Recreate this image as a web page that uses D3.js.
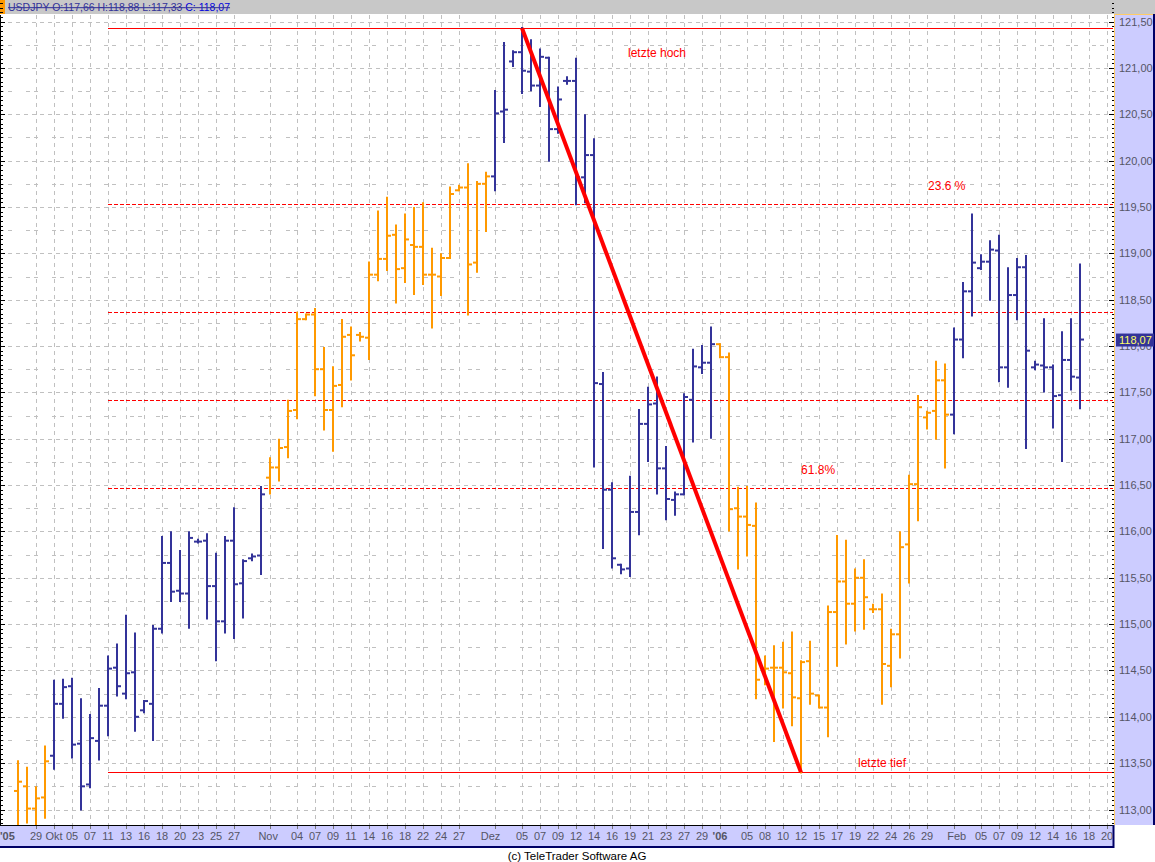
<!DOCTYPE html>
<html><head><meta charset="utf-8">
<script src="https://cdn.jsdelivr.net/npm/d3@7"></script>
<style>
body{margin:0;background:#fff;}
svg{display:block;font-family:"Liberation Sans",Arial,sans-serif;}
</style></head><body>
<svg id="c" width="1155" height="862"></svg>
<script>
// ---- data ----
const opens  = [113.20,113.25,113.01,113.13,113.58,114.14,114.33,113.71,113.27,113.74,
114.12,114.53,114.25,114.48,114.07,114.14,114.95,115.66,115.36,115.33,
115.89,115.90,115.41,115.03,115.90,115.44,115.71,115.74,116.58,116.69,
116.91,117.31,118.29,118.34,117.75,117.31,117.58,118.12,118.12,118.09,
118.77,118.94,119.20,118.84,119.09,119.07,118.77,118.75,118.95,119.68,
119.71,118.90,119.75,119.83,120.53,121.07,121.17,120.96,120.81,121.11,
120.34,120.86,120.86,119.82,120.06,117.59,116.45,115.64,115.60,116.21,
117.16,117.38,116.68,116.34,116.40,117.42,117.77,117.82,118.02,117.88,
116.25,116.16,116.06,114.52,114.53,114.53,114.47,114.20,114.60,114.23,
114.10,115.13,115.46,115.22,115.50,115.16,115.16,114.55,114.89,115.86,
116.51,117.23,117.30,117.63,117.26,118.07,118.59,118.84,118.91,119.03,
117.77,118.55,118.85,117.77,117.79,117.77,117.47,117.85,117.66];
const highs  = [113.52,113.45,113.24,113.68,114.39,114.40,114.41,114.19,114.02,114.30,
114.65,114.78,115.09,114.90,114.17,114.98,115.94,115.99,115.79,115.99,
115.91,115.97,115.76,115.94,116.25,115.69,115.75,116.48,116.79,116.99,
117.41,118.36,118.34,118.40,117.98,117.77,118.28,118.20,118.14,118.90,
119.45,119.60,119.30,119.42,119.49,119.54,119.05,118.99,119.71,119.73,
119.96,119.77,119.87,120.75,121.27,121.18,121.43,121.30,121.20,121.11,
120.79,120.90,121.10,120.49,120.23,117.71,116.52,115.64,116.59,117.31,
117.55,117.66,116.91,116.42,117.48,117.96,118.00,118.20,118.02,117.92,
116.47,116.48,116.30,114.65,114.76,114.80,114.91,114.60,114.81,114.23,
115.19,115.95,115.90,115.59,115.69,115.21,115.32,114.94,115.99,116.60,
117.46,117.29,117.83,117.80,118.19,118.68,119.42,118.98,119.13,119.19,
118.84,118.94,118.97,117.83,118.29,117.79,118.15,118.29,118.88];
const lows   = [112.75,112.86,112.80,112.91,113.44,113.99,113.56,113.00,113.24,113.54,
113.80,114.23,114.20,113.85,114.05,113.75,114.91,115.25,115.25,114.96,
115.88,115.06,114.61,114.91,114.85,115.07,115.69,115.54,116.41,116.55,
116.80,117.22,118.29,117.47,117.10,116.87,117.35,117.64,118.06,117.86,
118.71,118.82,118.47,118.69,118.56,118.67,118.20,118.55,118.95,119.68,
118.34,118.80,119.24,119.68,120.20,121.02,120.73,120.76,120.59,120.00,
120.30,120.83,119.53,119.55,116.70,115.82,115.61,115.55,115.52,115.97,
116.76,116.41,116.13,116.18,116.40,116.97,117.71,117.01,117.88,116.01,
115.60,115.74,114.20,114.35,113.74,114.10,113.91,113.40,114.14,114.10,
113.79,114.55,114.79,114.93,114.95,115.13,114.14,114.33,114.64,115.45,
116.12,117.11,117.00,116.69,117.06,117.88,118.33,118.83,118.50,117.62,
117.56,118.29,116.90,117.75,117.51,117.12,116.76,117.53,117.33];
const closes = [113.30,113.01,113.12,113.52,114.14,114.32,113.70,113.25,113.77,114.12,
114.52,114.33,114.47,114.00,114.17,114.95,115.66,115.35,115.33,115.93,
115.89,115.41,115.03,115.90,115.43,115.68,115.73,116.40,116.69,116.90,
117.30,118.29,118.34,117.75,117.31,117.57,118.10,117.90,118.10,118.77,
118.94,119.19,118.83,119.15,119.07,118.77,118.77,118.95,119.64,119.71,
118.88,119.75,119.83,120.51,120.55,121.17,120.97,120.81,121.12,120.34,
120.66,120.86,119.82,120.06,117.60,116.45,115.71,115.59,116.21,117.16,
117.37,116.68,116.35,116.40,117.45,117.78,117.82,118.02,117.88,116.24,
116.16,116.07,114.40,114.52,114.53,114.48,114.21,114.59,114.25,114.10,
115.13,115.46,115.22,115.50,115.29,115.16,114.57,114.89,115.83,116.51,
117.34,117.28,117.63,117.26,118.07,118.59,118.90,118.91,119.04,117.77,
118.55,118.85,117.95,117.80,117.77,117.46,117.85,117.67,118.07];
// trend state ranges (bar index from..to) drawn in the "up" colour
const upTrendRanges = [[0,3],[28,52],[78,103]];
// x axis tick labels: [text, bar position, bold]
const xLabels = [["'05",-1,true],["29",2],["Okt",4],["05",6],["07",8],["11",10],["13",12],["16",14],["18",16],["20",18],["23",20],["25",22],["27",24],
["Nov",27.8],["04",31],["07",33],["09",35],["11",37],["14",39],["16",41],["18",43],["22",45],["24",47],["27",49],
["Dez",52.5],["05",56],["07",58],["09",60],["12",62],["14",64],["16",66],["19",68],["21",70],["23",72],["27",74],["29",76],
["'06",78,true],["05",81],["08",83],["10",85],["12",87],["15",89],["17",91],["19",93],["22",95],["24",97],["26",99],["29",101],
["Feb",104.3],["05",107],["07",109],["09",111],["12",113],["14",115],["16",117],["18",119],["20",121]];
const yTicks = [113,113.5,114,114.5,115,115.5,116,116.5,117,117.5,118,118.5,119,119.5,120,120.5,121,121.5];
// Fibonacci retracement
const fibHigh = 121.43, fibLow = 113.40;
const fibHighBar = 56, fibLowBar = 87;
const fibLevels = [0, 0.236, 0.382, 0.5, 0.618, 1];
const fibNotes = [["letzte hoch",0,71],["23.6 %",0.236,103.2],["61.8%",0.618,88.9],["letzte tief",1,96]];
const lastClose = 118.07;
const header = "USDJPY O:117,66 H:118,88 L:117,33";
const headerC = "C: 118,07";

// ---- drawing ----
const svg = d3.select("#c");
const L=0, R=1113, T=15, B=825;
const x = d3.scaleLinear().domain([0,118]).range([18,1080]);
const y = d3.scaleLinear().domain([113,121.5]).range([809.5,21.6]);
const fmt = v => d3.format(".2f")(v).replace(".",",");
const isUp = i => upTrendRanges.some(r => i>=r[0] && i<=r[1]);

svg.append("rect").attr("width",1155).attr("height",862).attr("fill","#fff");
// header
svg.append("rect").attr("x",0).attr("y",0).attr("width",1155).attr("height",14).attr("fill","#c8c8c8");
svg.append("rect").attr("x",0).attr("y",0).attr("width",5).attr("height",14).attr("fill","#ff9900");
const ht = svg.append("text").attr("x",8).attr("y",11).attr("font-size",10.5).attr("fill","#333399")
  .style("text-decoration","line-through");
ht.append("tspan").text(header+" ");
ht.append("tspan").attr("fill","#0000dd").text(headerC);

const defs = svg.append("defs");
defs.append("clipPath").attr("id","plot").append("rect").attr("x",L).attr("y",T).attr("width",R-L).attr("height",B-T);
const g = svg.append("g").attr("clip-path","url(#plot)");

// horizontal grid
const hgrid = d3.range(112.75,121.76,0.25);
g.selectAll(".hg").data(hgrid).join("line")
  .attr("x1",L).attr("x2",R).attr("y1",d=>Math.round(y(d))+0.5).attr("y2",d=>Math.round(y(d))+0.5)
  .attr("stroke","#c0c0c0").attr("stroke-width",1)
  .attr("stroke-dasharray",d=>(Math.abs(d*2-Math.round(d*2))<1e-6)?"4,4":"4,4,4,14");
// vertical grid
g.selectAll(".vg").data(xLabels.slice(1)).join("line")
  .attr("x1",d=>Math.round(x(Math.round(d[1])))+0.5).attr("x2",d=>Math.round(x(Math.round(d[1])))+0.5)
  .attr("y1",T).attr("y2",B).attr("stroke","#c0c0c0").attr("stroke-dasharray","4,4");

// fib lines
g.selectAll(".fib").data(fibLevels).join("line")
  .attr("x1",108).attr("x2",R)
  .attr("y1",d=>Math.round(y(fibHigh-d*(fibHigh-fibLow)))+0.5)
  .attr("y2",d=>Math.round(y(fibHigh-d*(fibHigh-fibLow)))+0.5)
  .attr("stroke","#ff0000").attr("stroke-width",1)
  .attr("stroke-dasharray",d=>(d===0||d===1)?null:"4,2");

// OHLC bars
const idx = d3.range(opens.length);
const bars = g.selectAll(".bar").data(idx).join("g")
  .attr("stroke",i=>isUp(i)?"#ff9900":"#333399").attr("stroke-width",2);
bars.append("line").attr("x1",i=>x(i)).attr("x2",i=>x(i)).attr("y1",i=>y(highs[i])-1).attr("y2",i=>y(lows[i])+1);
bars.append("line").attr("x1",i=>x(i)-4).attr("x2",i=>x(i)).attr("y1",i=>y(opens[i])).attr("y2",i=>y(opens[i]));
bars.append("line").attr("x1",i=>x(i)).attr("x2",i=>x(i)+4).attr("y1",i=>y(closes[i])).attr("y2",i=>y(closes[i]));

// trend line
g.append("line").attr("x1",x(fibHighBar)).attr("y1",y(fibHigh)).attr("x2",x(fibLowBar)).attr("y2",y(fibLow))
  .attr("stroke","#ff0000").attr("stroke-width",4);

// notes
g.selectAll(".note").data(fibNotes).join("text")
  .attr("x",d=>x(d[2])).attr("y",d=>y(fibHigh-d[1]*(fibHigh-fibLow)) + (d[1]===1?-5:(d[1]===0?29:-14)))
  .attr("text-anchor","middle").attr("font-size",12).attr("fill","#ff0000").text(d=>d[0]);

// left axis line + ticks
svg.append("line").attr("x1",0.5).attr("x2",0.5).attr("y1",T).attr("y2",B).attr("stroke","#000");
const minor = d3.range(112.85,121.75,0.05);
svg.selectAll(".lt").data(minor).join("line")
  .attr("x1",0).attr("x2",d=>(Math.abs(d*2-Math.round(d*2))<1e-6)?5:3)
  .attr("y1",d=>Math.round(y(d))+0.5).attr("y2",d=>Math.round(y(d))+0.5).attr("stroke","#000");

// right axis band
svg.append("rect").attr("x",1114).attr("y",14).attr("width",41).attr("height",811).attr("fill","#ccccff");
svg.append("line").attr("x1",1114.5).attr("x2",1114.5).attr("y1",14).attr("y2",825).attr("stroke","#ffcc66");
svg.append("line").attr("x1",1114).attr("x2",1155).attr("y1",14.5).attr("y2",14.5).attr("stroke","#ffcc66");
svg.append("line").attr("x1",1154).attr("x2",1154).attr("y1",14).attr("y2",825).attr("stroke","#000066").attr("stroke-width",2);
svg.selectAll(".rt").data(minor).join("line")
  .attr("x1",d=>(Math.abs(d*2-Math.round(d*2))<1e-6)?1109:1112).attr("x2",1114)
  .attr("y1",d=>Math.round(y(d))+0.5).attr("y2",d=>Math.round(y(d))+0.5).attr("stroke","#000");
svg.selectAll(".yl").data(yTicks).join("text")
  .attr("x",1119).attr("y",d=>y(d)+4).attr("font-size",11).attr("fill","#555566").text(fmt);
// last value marker
svg.append("rect").attr("x",1116).attr("y",y(lastClose)-6).attr("width",38).attr("height",13).attr("fill","#333399");
svg.append("text").attr("x",1119).attr("y",y(lastClose)+4).attr("font-size",11).attr("fill","#ffff66").text(fmt(lastClose));

// bottom axis band
svg.append("rect").attr("x",0).attr("y",826).attr("width",1114).attr("height",21).attr("fill","#ccccff");
svg.append("line").attr("x1",0).attr("x2",1114).attr("y1",825.5).attr("y2",825.5).attr("stroke","#000");
svg.append("line").attr("x1",0).attr("x2",1114).attr("y1",847).attr("y2",847).attr("stroke","#000066").attr("stroke-width",2);
svg.append("line").attr("x1",1113.5).attr("x2",1113.5).attr("y1",825).attr("y2",848).attr("stroke","#000066").attr("stroke-width",2);
svg.selectAll(".xt").data(xLabels.slice(1)).join("line")
  .attr("x1",d=>Math.round(x(Math.round(d[1])))+0.5).attr("x2",d=>Math.round(x(Math.round(d[1])))+0.5)
  .attr("y1",826).attr("y2",829).attr("stroke","#777");
svg.selectAll(".xl").data(xLabels).join("text")
  .attr("x",d=>d[0]==="'05"?0:x(d[1])).attr("y",840)
  .attr("text-anchor",d=>d[0]==="'05"?"start":"middle")
  .attr("font-size",11).attr("font-weight",d=>d[2]?"bold":"normal").attr("fill","#555566").text(d=>d[0]);

svg.append("text").attr("x",577).attr("y",860).attr("text-anchor","middle").attr("font-size",11.5)
  .attr("fill","#000").text("(c) TeleTrader Software AG");
</script>
</body></html>
